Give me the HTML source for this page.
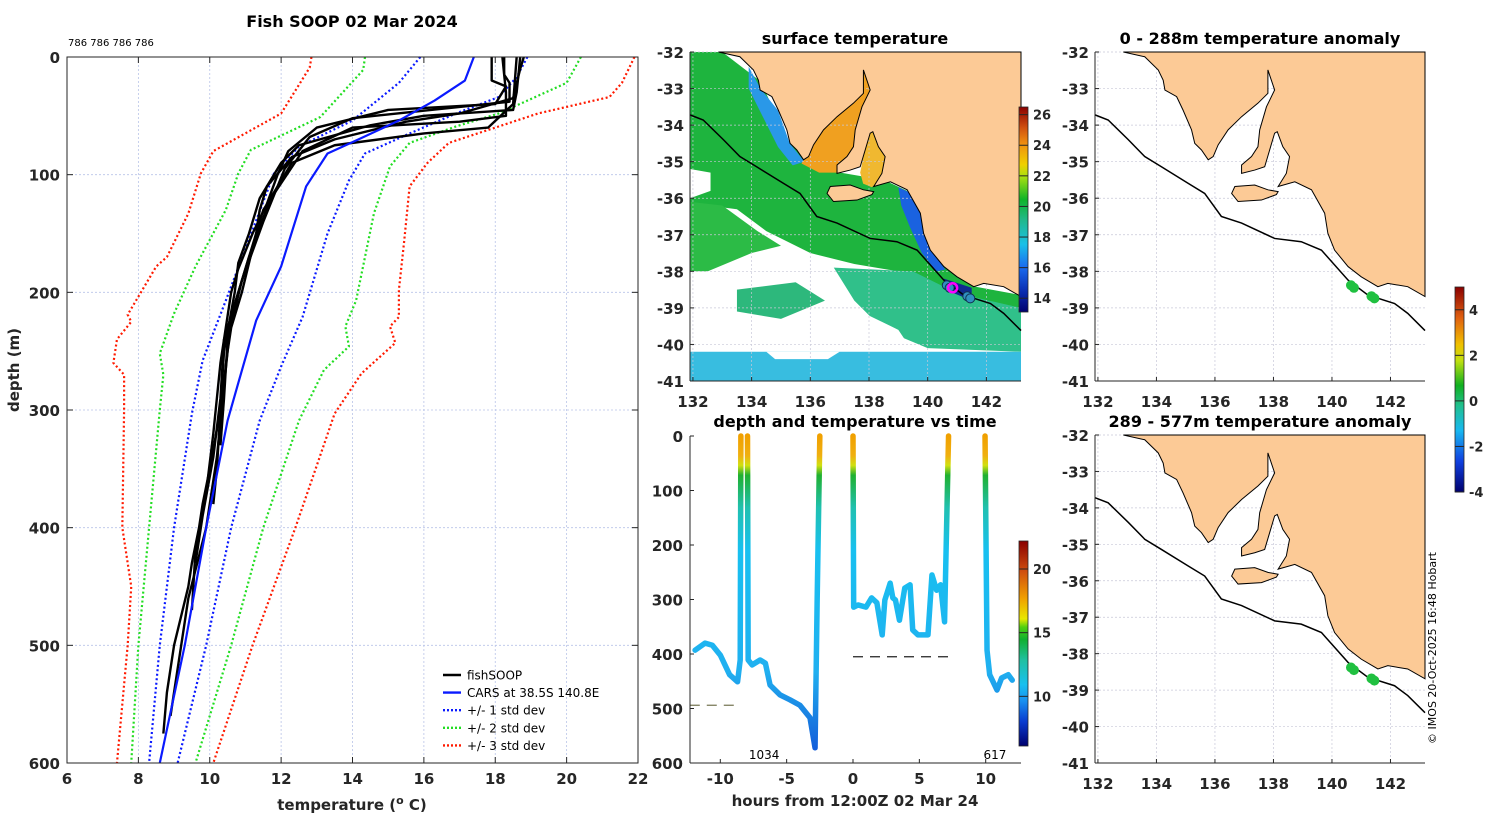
<!DOCTYPE html>
<html><head><meta charset="utf-8"><style>
html,body{margin:0;padding:0;background:#fff;width:1500px;height:820px;overflow:hidden}
svg{display:block;font-family:"DejaVu Sans","Liberation Sans",sans-serif}
.tk{font-size:15px;font-weight:bold;fill:#262626}
.ttl{font-size:16px;font-weight:bold;fill:#000}
.cb{font-size:13px;font-weight:bold;fill:#262626}
</style></head><body>
<svg id="s" width="1500" height="820" viewBox="0 0 1500 820">
<defs>
<linearGradient id="gSST" x1="0" y1="1" x2="0" y2="0">
<stop offset="0" stop-color="#00006e"/><stop offset="0.1" stop-color="#0a2cb0"/><stop offset="0.22" stop-color="#1a6cf0"/><stop offset="0.33" stop-color="#19c0e8"/><stop offset="0.45" stop-color="#21b88a"/><stop offset="0.55" stop-color="#0fb428"/><stop offset="0.66" stop-color="#a8e010"/><stop offset="0.72" stop-color="#f0d000"/><stop offset="0.82" stop-color="#f09010"/><stop offset="0.9" stop-color="#d05010"/><stop offset="1" stop-color="#8a0000"/></linearGradient>
<linearGradient id="gAno" x1="0" y1="1" x2="0" y2="0">
<stop offset="0" stop-color="#00006e"/><stop offset="0.15" stop-color="#1040e0"/><stop offset="0.3" stop-color="#18b8f0"/><stop offset="0.42" stop-color="#20c090"/><stop offset="0.52" stop-color="#10b020"/><stop offset="0.64" stop-color="#c0e010"/><stop offset="0.72" stop-color="#f0c000"/><stop offset="0.85" stop-color="#e06010"/><stop offset="1" stop-color="#8a0000"/></linearGradient>
<linearGradient id="gTim" x1="0" y1="1" x2="0" y2="0">
<stop offset="0" stop-color="#00006e"/><stop offset="0.12" stop-color="#0a3cd0"/><stop offset="0.22" stop-color="#1890f0"/><stop offset="0.3" stop-color="#18c0f0"/><stop offset="0.42" stop-color="#20c0a0"/><stop offset="0.52" stop-color="#10b030"/><stop offset="0.58" stop-color="#50d010"/><stop offset="0.62" stop-color="#e8e800"/><stop offset="0.72" stop-color="#f0a000"/><stop offset="0.85" stop-color="#d05010"/><stop offset="1" stop-color="#8a0000"/></linearGradient>
<linearGradient id="gTrack" gradientUnits="userSpaceOnUse" x1="0" y1="436" x2="0" y2="763">
<stop offset="0" stop-color="#f0a000"/><stop offset="0.06" stop-color="#f0b010"/><stop offset="0.09" stop-color="#d0e010"/><stop offset="0.12" stop-color="#20b030"/><stop offset="0.22" stop-color="#20c0b0"/><stop offset="0.35" stop-color="#18c0f0"/><stop offset="0.72" stop-color="#20b0f0"/><stop offset="0.88" stop-color="#1878e0"/><stop offset="1" stop-color="#1050d8"/></linearGradient>
</defs>
<g id="left"></g>
<g id="sst"></g>
<g id="an1"></g>
<g id="an2"></g>
<g id="tim"></g>
<text x="352" y="27" text-anchor="middle" class="ttl">Fish SOOP 02 Mar 2024</text>
<text x="68" y="46" font-size="10" fill="#000">786 786 786 786</text>
<text x="855" y="44" text-anchor="middle" class="ttl">surface temperature</text>
<text x="1260" y="44" text-anchor="middle" class="ttl">0 - 288m temperature anomaly</text>
<text x="855" y="427" text-anchor="middle" class="ttl">depth and temperature vs time</text>
<text x="1260" y="427" text-anchor="middle" class="ttl">289 - 577m temperature anomaly</text>
<text transform="translate(1436,648) rotate(-90)" text-anchor="middle" font-size="11" fill="#000">© IMOS 20-Oct-2025 16:48 Hobart</text>
</svg>
<script>
// ===== profile chart data =====
const depthTicks=[0,100,200,300,400,500,600];
const tempTicks=[6,8,10,12,14,16,18,20,22];
const sd3L=[[12.85,0],[12.8,9],[12.0,48],[10.1,80],[9.75,99],[9.4,133],[8.8,170],[8.5,178],[7.7,219],[7.8,225],[7.4,240],[7.3,260],[7.6,270],[7.6,300],[7.55,400],[7.8,450],[7.7,500],[7.55,550],[7.4,600]];
const sd2L=[[14.35,0],[14.3,11],[13.1,51],[11.15,79],[10.8,99],[10.45,130],[9.6,178],[9.0,218],[8.6,252],[8.7,270],[8.6,300],[8.3,400],[8.0,500],[7.8,600]];
const sd1L=[[15.9,0],[15.3,22],[14.0,54],[12.5,76],[11.8,99],[11.3,139],[10.45,207],[9.8,258],[9.5,303],[9.0,400],[8.6,500],[8.3,600]];
const cars=[[17.4,0],[17.15,20],[16.3,37],[15.3,54],[14.1,71],[13.3,82],[12.7,110],[12.0,178],[11.3,224],[10.8,277],[10.5,309],[9.9,400],[9.3,500],[8.6,600]];
const sd1R=[[18.9,0],[18.6,17],[18.1,34],[16.9,48],[15.6,65],[14.35,82],[13.9,105],[13.3,150],[12.6,221],[12.0,263],[11.4,309],[10.6,400],[9.9,500],[9.1,600]];
const sd2R=[[20.4,0],[20.0,22],[18.1,48],[16.9,59],[15.6,73],[15.05,93],[14.6,133],[14.1,207],[13.8,229],[13.9,246],[13.2,266],[12.5,309],[11.5,400],[10.6,500],[9.6,600]];
const sd3R=[[21.9,0],[21.55,22],[21.2,34],[19.2,48],[16.7,73],[16.1,90],[15.6,110],[15.45,156],[15.3,198],[15.3,221],[15.05,229],[15.2,243],[14.25,269],[13.5,303],[12.4,400],[11.2,500],[10.1,600]];
const cast1=[[18.7,0],[18.6,30],[18.5,45],[16,50],[14.5,58],[12.5,75],[12.0,90],[11.4,120],[11.1,150],[10.8,175],[10.7,200],[10.4,250],[10.3,300],[10.0,350],[9.8,380],[9.7,400],[9.5,430],[9.4,450],[9.0,500],[8.8,540],[8.7,575]];
const cast2=[[18.8,0],[18.7,10],[18.5,35],[17,48],[15.5,55],[13.5,70],[12.3,85],[11.6,110],[11.4,130],[11.3,150],[10.9,200],[10.6,230],[10.5,250],[10.3,300],[10.2,350],[10.1,380]];
const cast3=[[17.9,0],[17.9,20],[18.3,25],[18.0,40],[15.0,45],[13.0,60],[12.2,80],[11.9,100],[11.6,125],[11.2,150],[10.8,180],[10.6,200],[10.3,260],[10.1,320],[9.9,370],[9.6,420],[9.5,470]];
const cast4=[[18.6,0],[18.5,40],[17.8,60],[16,65],[13.5,75],[12.3,90],[11.7,120],[11.1,170],[10.6,220],[10.4,280],[10.2,340],[9.9,400],[9.4,460],[9.1,520],[8.9,560]];
const cast5=[[18.2,0],[18.3,30],[18.3,50],[17,55],[14,60],[12.6,80],[11.5,130],[10.9,190],[10.5,240],[10.4,290],[10.3,330]];
const cast6=[[18.25,0],[18.25,15],[18.4,22],[18.4,38],[16.5,44],[14,52],[12.8,68],[12.1,95],[11.5,140],[10.9,190],[10.4,240],[10.3,290],[10.1,340],[9.8,390],[9.6,430]];
// ===== time chart data =====
const hours=[-11.9,-11.15,-10.6,-10.0,-9.3,-8.7,-8.5,-8.45,null,-7.95,-7.9,-7.6,-7.0,-6.6,-6.25,-5.5,-4.75,-4.0,-3.24,-2.86,-2.7,-2.5,null,0,0.05,0.38,0.98,1.4,1.8,2.2,2.4,2.8,3.0,3.2,3.5,3.9,4.3,4.5,4.9,5.2,5.65,5.95,6.3,6.6,6.9,7.2,null,9.95,10.1,10.3,10.85,11.2,11.7,12.0];
const depths=[393,380,384,402,438,451,411,0,null,0,411,420,411,417,457,475,484,494,517,572,300,0,null,0,314,310,314,297,306,365,301,270,297,301,338,279,273,356,365,365,365,255,283,273,341,0,null,0,393,438,466,444,438,448];
const meanH=[[-12.3,-8.5],[0,7.2]];
const meanD=[494,405];
const segLabels=["1034","617"];
const labelH=[-6.7,10.7];
const hourTicks=[-10,-5,0,5,10];
const timeDepthTicks=[0,100,200,300,400,500,600];
// ===== map data =====
const shipLon=[140.65,140.75,141.35,141.45];
const shipLat=[-38.38,-38.45,-38.68,-38.74];
const lonTicks=[132,134,136,138,140,142];
const latTicks=[-32,-33,-34,-35,-36,-37,-38,-39,-40,-41];
const sstTicks=[14,16,18,20,22,24,26];
const anoTicks=[-4,-2,0,2,4];
const timTicks=[10,15,20];

const NS='http://www.w3.org/2000/svg';
function mk(tag,parent,attrs){const e=document.createElementNS(NS,tag);for(const k in attrs)e.setAttribute(k,attrs[k]);parent.appendChild(e);return e;}

// ---------- left profile chart ----------
const L=document.getElementById('left');
const lx=t=>67+(t-6)*(571/16), ly=d=>57+d*(706/600);
for(const t of tempTicks){const g=mk('line',L,{x1:lx(t),x2:lx(t),y1:57,y2:763,stroke:'#b8c4e8','stroke-width':0.8,'stroke-dasharray':'2,2'});


const tx=mk('text',L,{x:lx(t),y:784,'text-anchor':'middle',class:'tk'});tx.textContent=t;

}
for(const d of depthTicks){const g=mk('line',L,{x1:67,x2:638,y1:ly(d),y2:ly(d),stroke:'#b8c4e8','stroke-width':0.8,'stroke-dasharray':'2,2'});


const tx=mk('text',L,{x:60,y:ly(d)+6,'text-anchor':'end',class:'tk'});tx.textContent=d;

}
function prof(arr,color,w,dash,name){const p=mk('polyline',L,{points:arr.map(a=>lx(a[0])+','+ly(a[1])).join(' '),fill:'none',stroke:color,'stroke-width':w,'stroke-dasharray':dash||'none','stroke-linejoin':'round'});

}
prof(sd3L,'#ff1a00',2.2,'2,2.5','minus-3-std-line');prof(sd3R,'#ff1a00',2.2,'2,2.5','plus-3-std-line');
prof(sd2L,'#22dd22',2.2,'2,2.5','minus-2-std-line');prof(sd2R,'#22dd22',2.2,'2,2.5','plus-2-std-line');
prof(sd1L,'#0a1aff',2.2,'2,2.5','minus-1-std-line');prof(sd1R,'#0a1aff',2.2,'2,2.5','plus-1-std-line');
for(const c of [cast1,cast2,cast3,cast4,cast5,cast6])prof(c,'#000',2.4,null,'fishsoop-profile');
prof(cars,'#0a1aff',2.2,null,'cars-climatology-line');
const box=mk('rect',L,{x:67,y:57,width:571,height:706,fill:'none',stroke:'#262626','stroke-width':1});


for(const t of tempTicks){mk('line',L,{x1:lx(t),x2:lx(t),y1:763,y2:757,stroke:'#262626'});mk('line',L,{x1:lx(t),x2:lx(t),y1:57,y2:63,stroke:'#262626'});}
for(const d of depthTicks){mk('line',L,{x1:67,x2:73,y1:ly(d),y2:ly(d),stroke:'#262626'});mk('line',L,{x1:638,x2:632,y1:ly(d),y2:ly(d),stroke:'#262626'});}
let t1=mk('text',L,{x:352,y:810,'text-anchor':'middle',class:'tk','font-size':'16'});t1.innerHTML='temperature (<tspan dy="-6" font-size="11">o</tspan><tspan dy="6"> C)</tspan>';


let t2=mk('text',L,{transform:'translate(19,370) rotate(-90)','text-anchor':'middle',class:'tk'});t2.textContent='depth (m)';


const legItems=[['fishSOOP','#000',null],['CARS at 38.5S 140.8E','#0a1aff',null],['+/- 1 std dev','#0a1aff','2,2'],['+/- 2 std dev','#22dd22','2,2'],['+/- 3 std dev','#ff1a00','2,2']];
legItems.forEach((it,i)=>{const y=675+i*17.6;const g=mk('g',L,{});


mk('line',g,{x1:443,x2:461,y1:y,y2:y,stroke:it[1],'stroke-width':2.4,'stroke-dasharray':it[2]||'none'});
const tx=mk('text',g,{x:467,y:y+4.5,'font-size':'12',fill:'#000'});tx.textContent=it[0];});

// ---------- maps ----------
function proj(x0,y0,x1,y1){const lon0=131.9,lon1=143.18,la0=-32,la1=-41;return (lo,la)=>[x0+(lo-lon0)/(lon1-lon0)*(x1-x0),y0+(la0-la)/(la0-la1)*(y1-y0)];}
const land=[[132.87,-32.0],[133.6,-32.13],[134.06,-32.49],[134.23,-32.77],[134.29,-33.04],[134.69,-33.22],[134.91,-33.59],[135.2,-34.13],[135.31,-34.5],[135.54,-34.68],[135.77,-34.95],[135.94,-34.86],[136.11,-34.54],[136.45,-34.13],[136.91,-33.77],[137.47,-33.4],[137.81,-33.13],[137.81,-32.49],[138.04,-33.04],[137.76,-33.5],[137.53,-34.13],[137.47,-34.59],[137.25,-34.86],[136.91,-35.09],[136.91,-35.32],[137.36,-35.23],[137.7,-35.14],[137.87,-34.68],[138.04,-34.22],[138.13,-34.18],[138.32,-34.59],[138.55,-34.86],[138.44,-35.32],[138.16,-35.68],[138.73,-35.55],[139.3,-35.77],[139.75,-36.41],[139.86,-36.96],[140.09,-37.42],[140.55,-37.87],[141.0,-38.15],[141.57,-38.42],[141.91,-38.33],[142.59,-38.42],[143.18,-38.69],[143.18,-32]];
const spencer=[[135.7,-35.05],[136.3,-34.2],[137.2,-33.5],[137.8,-32.4],[138.1,-33.0],[137.6,-34.3],[137.3,-35.0],[136.9,-35.3],[136.3,-35.3]];
const vincent=[[137.7,-35.3],[137.95,-34.3],[138.15,-34.1],[138.6,-34.8],[138.5,-35.4],[138.1,-35.7],[137.8,-35.6]];
const kang=[[136.57,-35.87],[136.68,-35.68],[137.36,-35.64],[137.81,-35.77],[138.16,-35.82],[138.1,-35.9],[137.59,-36.05],[136.79,-36.09]];
const iso=[[131.9,-33.72],[132.35,-33.86],[133.04,-34.4],[133.6,-34.86],[134.17,-35.14],[135.08,-35.59],[135.65,-35.87],[136.22,-36.5],[136.91,-36.68],[138.04,-37.1],[138.95,-37.19],[139.64,-37.42],[140.55,-38.24],[141.23,-38.65],[142.14,-38.88],[142.59,-39.15],[143.18,-39.62]];
function poly(g,P,pts,fill,stroke,sw){return mk('polygon',g,{points:pts.map(p=>P(p[0],p[1]).join(',')).join(' '),fill:fill,stroke:stroke||'none','stroke-width':sw||0});}
function drawMap(id,x0,y0,x1,y1,sst){
 const g=document.getElementById(id),P=proj(x0,y0,x1,y1);
 mk('rect',g,{x:x0,y:y0,width:x1-x0,height:y1-y0,fill:'#fff'});
 if(sst){
  poly(g,P,[[131.9,-32],[133,-32],[134.3,-32.8],[135.3,-34.5],[136.3,-35.2],[138.5,-35.5],[139.3,-35.8],[139.9,-37.0],[140.6,-37.9],[141.5,-38.4],[143.18,-38.65],[143.18,-39.1],[141.5,-38.95],[140.5,-38.5],[139,-38.0],[137.5,-37.8],[136,-37.5],[134.5,-36.9],[133.5,-36.3],[132.5,-36.2],[131.9,-36.1]],'#1eb43e');
  poly(g,P,[[131.9,-36.1],[133,-36.2],[134.2,-36.9],[135,-37.3],[134,-37.5],[132.5,-38.0],[131.9,-38.0]],'#2cbb46');
  poly(g,P,[[131.9,-35.2],[132.6,-35.3],[132.6,-35.8],[131.9,-36.0]],'#fff');
  poly(g,P,[[133.9,-32.4],[134.3,-33.0],[134.9,-33.6],[135.3,-34.5],[135.8,-35.0],[135.4,-35.1],[134.9,-34.6],[134.4,-33.8],[133.9,-33.0]],'#2a98e8');
  poly(g,P,[[139.0,-35.7],[139.4,-35.85],[139.8,-36.4],[139.9,-37.0],[140.15,-37.45],[140.6,-37.95],[140.3,-38.0],[139.8,-37.5],[139.4,-36.8],[139.1,-36.2]],'#1a62e0');
  poly(g,P,[[133.5,-38.5],[135.5,-38.3],[136.5,-38.8],[135,-39.3],[133.5,-39.1]],'#2db87c');
  poly(g,P,[[136.8,-37.9],[139.5,-38.0],[141,-38.6],[143.18,-39.0],[143.18,-40.2],[140,-40.1],[138.5,-39.6],[137.5,-38.8]],'#30c08a');
  poly(g,P,[[137.2,-38.9],[139,-39.6],[139.5,-40.2],[138,-40.1]],'#fff');
  poly(g,P,[[131.9,-40.2],[143.18,-40.2],[143.18,-41],[131.9,-41]],'#38bde0');
  poly(g,P,[[134.5,-40.2],[137,-40.2],[136.6,-40.4],[134.8,-40.4]],'#fff');
  poly(g,P,[[140.55,-38.2],[141.5,-38.45],[141.5,-38.8],[140.6,-38.5]],'#102a90');
  poly(g,P,spencer,'#f0a020');poly(g,P,vincent,'#f0b830');
 }
 for(const lo of lonTicks){const a=P(lo,-32),b=P(lo,-41);mk('line',g,{x1:a[0],x2:b[0],y1:a[1],y2:b[1],stroke:'#c8c8d8','stroke-width':0.7,'stroke-dasharray':'2,2'});}
 for(const la of latTicks){const a=P(131.9,la),b=P(143.18,la);mk('line',g,{x1:a[0],x2:b[0],y1:a[1],y2:b[1],stroke:'#c8c8d8','stroke-width':0.7,'stroke-dasharray':'2,2'});}
 const ld=poly(g,P,land,'#fcca96','#000',1);
 
 
 const ki=poly(g,P,kang,'#fcca96','#000',1);
 
 
 const il=mk('polyline',g,{points:iso.map(p=>P(p[0],p[1]).join(',')).join(' '),fill:'none',stroke:'#000','stroke-width':1.5});
 
 
 shipLon.forEach((lo,i)=>{const p=P(lo,shipLat[i]);const c=mk('circle',g,{cx:p[0],cy:p[1],r:4.5,fill:sst?'#3090c0':'#20c040',stroke:sst?'#103050':'#20c040','stroke-width':1});
 
 });
 if(sst){const p=P(140.85,-38.45);const c=mk('circle',g,{cx:p[0],cy:p[1],r:4.5,fill:'none',stroke:'#ff00ff','stroke-width':2.5});
 
 }
 mk('line',g,{x1:x0,x2:x0,y1:y0,y2:y1,stroke:'#262626'});mk('line',g,{x1:x0,x2:x1,y1:y1,y2:y1,stroke:'#262626'});
 for(const lo of lonTicks){const p=P(lo,-41);mk('line',g,{x1:p[0],x2:p[0],y1:y1,y2:y1-4,stroke:'#262626'});const t=mk('text',g,{x:p[0],y:y1+26,'text-anchor':'middle',class:'tk'});t.textContent=lo;
 
 }
 for(const la of latTicks){const p=P(131.9,la);mk('line',g,{x1:x0,x2:x0+4,y1:p[1],y2:p[1],stroke:'#262626'});const t=mk('text',g,{x:x0-6,y:p[1]+6,'text-anchor':'end',class:'tk'});t.textContent=la;
 
 }
}
drawMap('sst',690,52,1021,381,true);
drawMap('an1',1095,52,1425,381,false);
drawMap('an2',1095,435,1425,763,false);

function colorbar(gid,x,y0,y1,grad,vmin,vmax,ticks,name){
 const g=document.getElementById(gid);
 const r=mk('rect',g,{x:x,y:y0,width:9,height:y1-y0,fill:'url(#'+grad+')',stroke:'#262626','stroke-width':0.8});
 
 
 for(const t of ticks){const y=y1-(t-vmin)/(vmax-vmin)*(y1-y0);mk('line',g,{x1:x,x2:x+9,y1:y,y2:y,stroke:'#262626'});const tx=mk('text',g,{x:x+14,y:y+5,class:'cb'});tx.textContent=t;
 
 }
}
colorbar('sst',1019,107,312,'gSST',13.1,26.5,sstTicks,'sst-colorbar');
colorbar('an1',1455,287,492,'gAno',-4.0,5.0,anoTicks,'anomaly-colorbar');
colorbar('tim',1019,541,746,'gTim',6.1,22.2,timTicks,'time-temp-colorbar');

// ---------- time chart ----------
const T=document.getElementById('tim');
const hx=h=>853+h*13.27, dy=d=>436+d*(327/600);
let segs=[[]];hours.forEach((h,i)=>{if(h===null)segs.push([]);else segs[segs.length-1].push(hx(h)+','+dy(depths[i]));});
for(const s of segs){const p=mk('polyline',T,{points:s.join(' '),fill:'none',stroke:'url(#gTrack)','stroke-width':5.5,'stroke-linejoin':'round','stroke-linecap':'round'});

}
meanD.forEach((d,i)=>{const l=mk('line',T,{x1:hx(meanH[i][0]),x2:hx(meanH[i][1]),y1:dy(d),y2:dy(d),stroke:i?'#222':'#777755','stroke-width':1.2,'stroke-dasharray':'10,7'});

});
segLabels.forEach((s,i)=>{const t=mk('text',T,{x:hx(labelH[i]),y:759,'text-anchor':'middle','font-size':'12',fill:'#000'});t.textContent=s;

});
mk('line',T,{x1:690,x2:690,y1:436,y2:763,stroke:'#262626'});mk('line',T,{x1:690,x2:1021,y1:763,y2:763,stroke:'#262626'});
for(const h of hourTicks){mk('line',T,{x1:hx(h),x2:hx(h),y1:763,y2:759,stroke:'#262626'});const t=mk('text',T,{x:hx(h),y:784,'text-anchor':'middle',class:'tk'});t.textContent=h;

}
for(const d of timeDepthTicks){mk('line',T,{x1:690,x2:694,y1:dy(d),y2:dy(d),stroke:'#262626'});const t=mk('text',T,{x:683,y:dy(d)+6,'text-anchor':'end',class:'tk'});t.textContent=d;

}
const xt=mk('text',T,{x:855,y:806,'text-anchor':'middle',class:'tk','font-size':'16'});xt.textContent='hours from 12:00Z 02 Mar 24';


</script>
</body></html>
